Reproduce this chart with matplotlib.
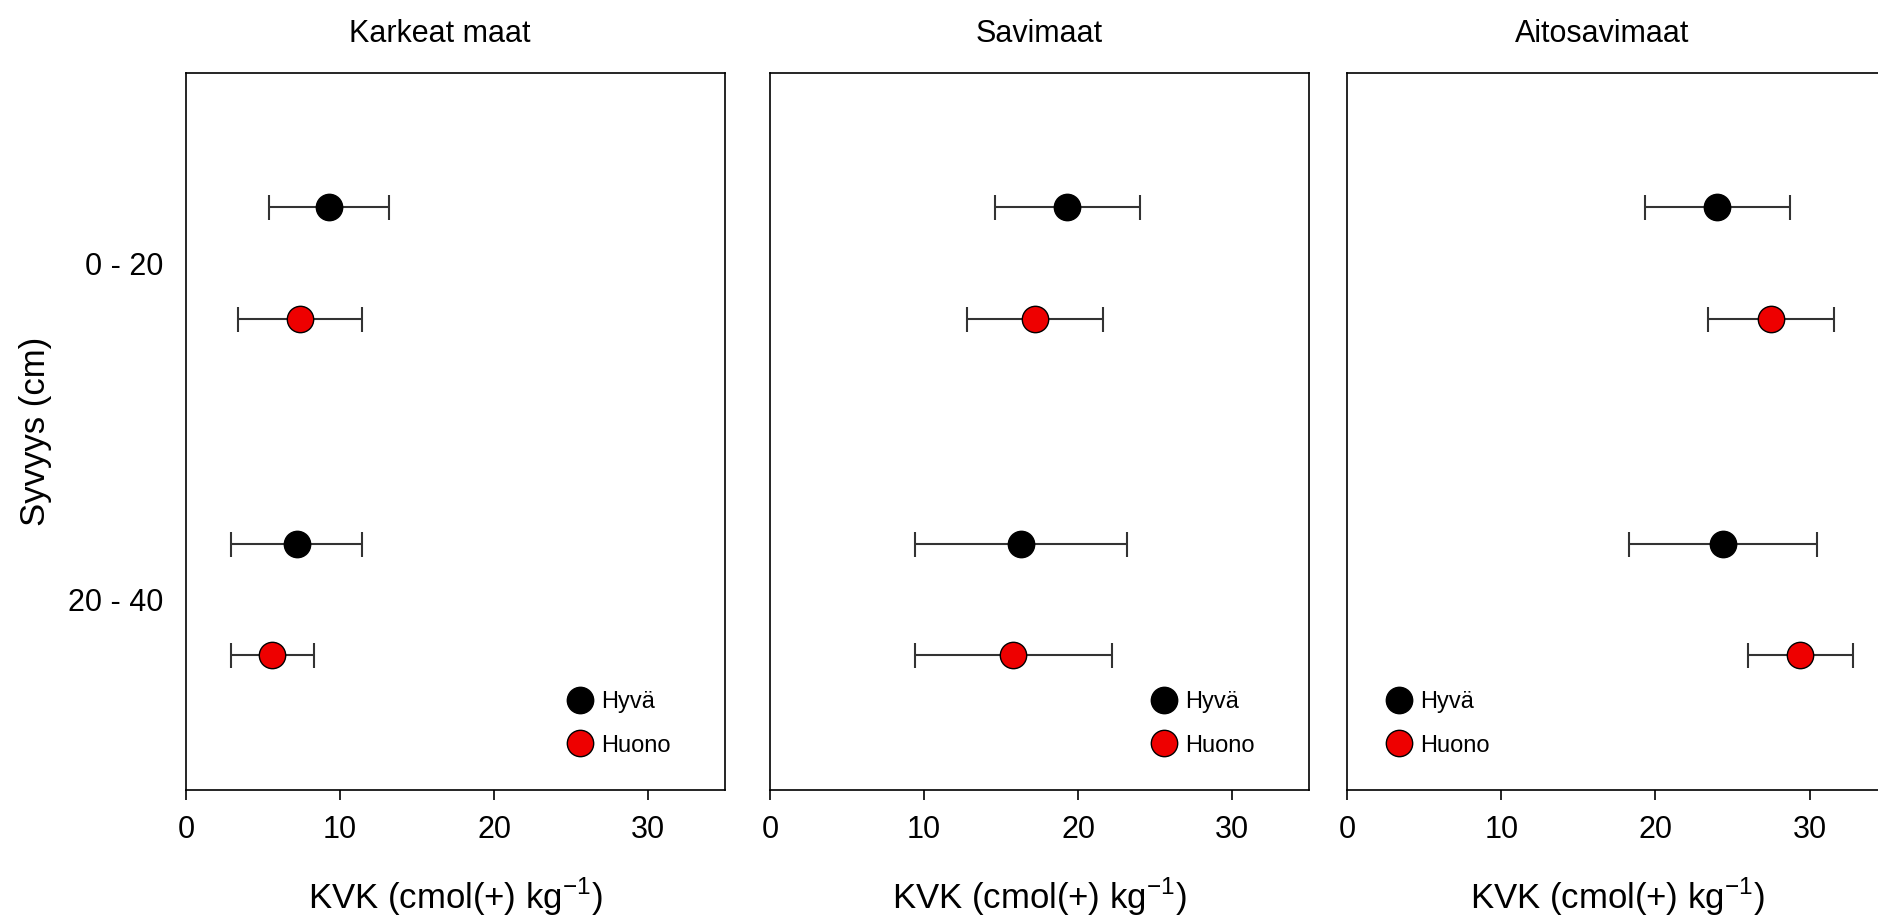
import matplotlib.pyplot as plt
from matplotlib.lines import Line2D

plt.rcParams['font.family'] = ['Liberation Sans', 'DejaVu Sans']

# data
panels = ['Karkeat maat', 'Savimaat', 'Aitosavimaat']
depths = ['0 - 20', '20 - 40']
hyva_mean = [[9.3, 7.2], [19.3, 16.3], [24.0, 24.4]]
hyva_err = [[3.9, 4.25], [4.7, 6.9], [4.7, 6.1]]
huono_mean = [[7.4, 5.6], [17.2, 15.8], [27.5, 29.4]]
huono_err = [[4.05, 2.7], [4.4, 6.4], [4.1, 3.4]]

fig = plt.figure(figsize=(18.78, 9.15), dpi=100)

lefts = [0.099, 0.410, 0.7174]
legend_x = [0.687, 0.687, 0.052]
title_x = [0.47, 0.5, 0.473]
off = 0.166

for k in range(3):
    ax = fig.add_axes([lefts[k], 0.1366, 0.2872, 0.7836])
    ypos = [i + 1 for i in range(len(depths))]
    ax.errorbar(hyva_mean[k], [y - off for y in ypos], xerr=hyva_err[k], fmt='none',
                ecolor='#333333', elinewidth=1.5, capsize=9, capthick=1.5, zorder=2)
    ax.errorbar(huono_mean[k], [y + off for y in ypos], xerr=huono_err[k], fmt='none',
                ecolor='#333333', elinewidth=1.5, capsize=9, capthick=1.5, zorder=2)
    ax.plot(hyva_mean[k], [y - off for y in ypos], 'o', color='black', mec='black',
            mew=1, ms=19, zorder=3, linestyle='none')
    ax.plot(huono_mean[k], [y + off for y in ypos], 'o', color='#ee0000', mec='black',
            mew=1, ms=19, zorder=3, linestyle='none')

    ax.set_xlim(0, 35)
    ax.set_ylim(2.566, 0.435)
    ax.set_xticks([0, 10, 20, 30])
    ax.tick_params(axis='x', labelsize=22, length=7, width=1.2, pad=11, direction='out')
    ax.set_yticks(ypos)
    if k == 0:
        ax.set_yticklabels(depths)
        ax.tick_params(axis='y', labelsize=22, length=0, pad=16)
        ax.set_ylabel('Syvyys (cm)', fontsize=25, labelpad=12)
    else:
        ax.set_yticklabels([])
        ax.tick_params(axis='y', length=0)
    for s in ax.spines.values():
        s.set_linewidth(1.2)
        s.set_color('black')
    ax.set_title(panels[k], fontsize=22, pad=22, x=title_x[k])
    ax.set_xlabel('KVK (cmol(+) kg$^{\\mathregular{-1}}$)', fontsize=25, labelpad=22)

    handles = [Line2D([], [], marker='o', color='black', mec='black', ms=19, linestyle='none'),
               Line2D([], [], marker='o', color='#ee0000', mec='black', ms=19, linestyle='none')]
    ax.legend(handles, ['Hyvä', 'Huono'], loc='lower left', bbox_to_anchor=(legend_x[k], 0.03),
              frameon=False, fontsize=17, handlelength=1.0, handletextpad=0.4,
              labelspacing=0.9, borderpad=0)

fig.savefig('out.png', dpi=100)
